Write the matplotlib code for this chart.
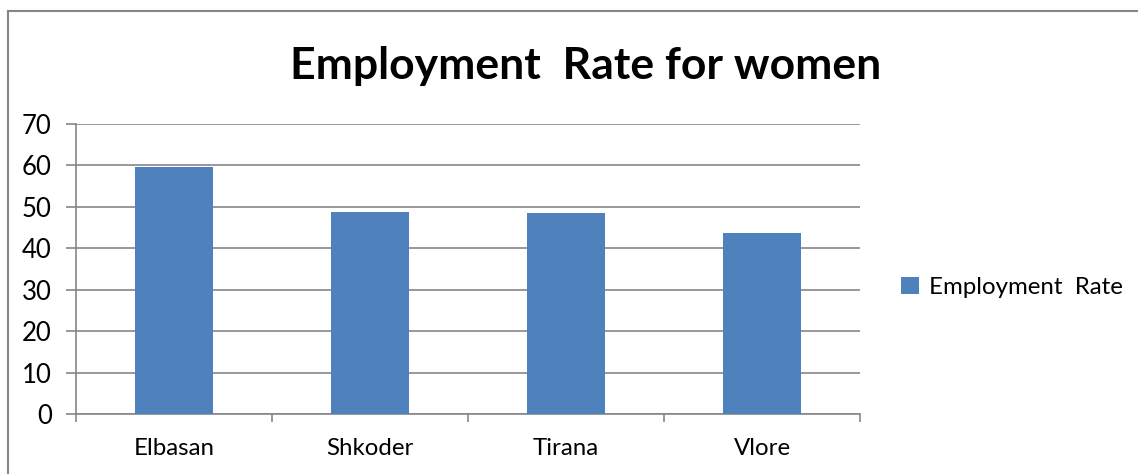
import matplotlib.pyplot as plt
from matplotlib.lines import Line2D

cities = ["Elbasan", "Shkoder", "Tirana", "Vlore"]
employment_rate = [59.5, 48.8, 48.4, 43.8]

plt.rcParams['font.family'] = ['Lato', 'DejaVu Sans']

fig = plt.figure(figsize=(11.38, 4.74), dpi=100)
ax = fig.add_axes([0.0668, 0.1266, 0.689, 0.6118])

ax.bar(range(len(cities)), employment_rate, width=0.4, color="#4F81BD",
       label="Employment  Rate", zorder=3)

ax.set_xlim(-0.5, len(cities) - 0.5)
ax.set_ylim(0, 70)
ax.set_yticks(range(0, 71, 10))
ax.yaxis.grid(True, color="#868686", linewidth=1.2, zorder=0)

# category boundaries get the tick marks, labels sit in the middle
ax.set_xticks([i - 0.5 for i in range(len(cities) + 1)])
ax.set_xticklabels([])
ax.set_xticks(range(len(cities)), minor=True)
ax.set_xticklabels(cities, minor=True, fontsize=17.3)
ax.tick_params(axis="x", which="major", length=6, width=1.2, color="#868686")
ax.tick_params(axis="x", which="minor", length=0, pad=17)
ax.tick_params(axis="y", length=7, width=1.2, color="#868686", labelsize=18.5, pad=10.5)

for side in ["top", "right"]:
    ax.spines[side].set_visible(False)
for side in ["left", "bottom"]:
    ax.spines[side].set_color("#868686")
    ax.spines[side].set_linewidth(1.2)

fig.text(0.515, 0.86, "Employment  Rate for women", ha="center", va="center",
         fontsize=32, fontweight="bold")

ax.legend(loc="center left", bbox_to_anchor=(0.792, 0.394),
          bbox_transform=fig.transFigure, frameon=False, borderpad=0,
          borderaxespad=0, fontsize=17.3, handlelength=0.75, handleheight=0.75,
          handletextpad=0.4)

# outer chart frame (left and top edges)
fig.add_artist(Line2D([8 / 1138, 8 / 1138], [0, 1 - 11 / 474],
                      transform=fig.transFigure, color="#868686", linewidth=1.5))
fig.add_artist(Line2D([8 / 1138, 1], [1 - 11 / 474, 1 - 11 / 474],
                      transform=fig.transFigure, color="#868686", linewidth=1.5))

fig.savefig("out.png", dpi=100)
